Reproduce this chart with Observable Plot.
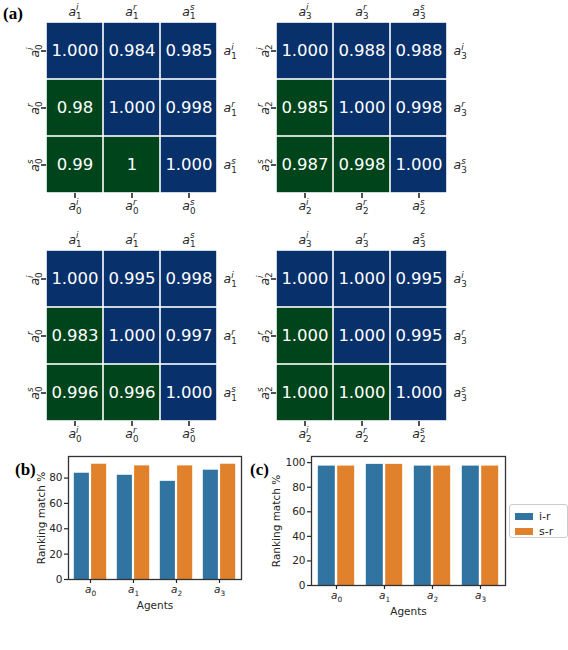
<!DOCTYPE html>
<html>
<head>
<meta charset="utf-8">
<script src="https://cdn.jsdelivr.net/npm/d3@7"></script>
<script src="https://cdn.jsdelivr.net/npm/@observablehq/plot@0.6"></script>
<style>
  body { margin: 0; background: white; }
  #fig { position: relative; width: 568px; height: 650px; font-family: "DejaVu Sans", sans-serif; color: #262626; overflow: hidden; }
  #fig > * { position: absolute; }
  .panel { font-family: "Liberation Serif", "Times New Roman", serif; font-weight: bold; font-size: 17px; color: #000; }
  .legend { border: 1px solid #cccccc; border-radius: 3px; background: white; font-size: 11px; box-sizing: border-box; }
  .legend .row { position: absolute; display: flex; align-items: center; }
  .legend .sw { width: 18px; height: 7px; margin-right: 6px; }
</style>
</head>
<body>
<div id="fig"></div>
<script>
// ---------- data ----------
const triangle = [["upper","upper","upper"],["lower","upper","upper"],["lower","lower","upper"]];

const h1Values = [["1.000","0.984","0.985"],["0.98","1.000","0.998"],["0.99","1","1.000"]];
const h2Values = [["1.000","0.988","0.988"],["0.985","1.000","0.998"],["0.987","0.998","1.000"]];
const h3Values = [["1.000","0.995","0.998"],["0.983","1.000","0.997"],["0.996","0.996","1.000"]];
const h4Values = [["1.000","1.000","0.995"],["1.000","1.000","0.995"],["1.000","1.000","1.000"]];

const labelsA0 = ["a_0^i","a_0^r","a_0^s"];
const labelsA1 = ["a_1^i","a_1^r","a_1^s"];
const labelsA2 = ["a_2^i","a_2^r","a_2^s"];
const labelsA3 = ["a_3^i","a_3^r","a_3^s"];

const agents = ["a_0","a_1","a_2","a_3"];
const seriesNames = ["i-r","s-r"];
const bIR = [84.2, 82.6, 77.8, 86.6];
const bSR = [91.3, 90.0, 90.0, 91.3];
const cIR = [97.6, 99.0, 97.6, 97.6];
const cSR = [97.6, 99.0, 97.6, 97.6];
const bTicks = [0, 20, 40, 60, 80];
const cTicks = [0, 20, 40, 60, 80, 100];

const navy = "#08306b", green = "#00441b";
const barBlue = "#3274a1", barOrange = "#e1812c";
const ink = "#262626";

const fig = document.getElementById("fig");

// turn "a_0^i" / "a_0" into italic a with stacked scripts
const supW = {i: 2.4, r: 3.4, s: 4.3};
function decorate(svg, base) {
  d3.select(svg).selectAll("text").each(function() {
    const t = this.textContent;
    const m = t.match(/^a_(\d)(?:\^(\w))?$/);
    if (!m) return;
    const el = d3.select(this);
    el.text(null);
    el.append("tspan").attr("font-style", "italic").text("a");
    const small = base * 0.7;
    if (m[2]) {
      el.append("tspan").attr("font-style", "italic").attr("font-size", small).attr("dy", -base * 0.42).text(m[2]);
      el.append("tspan").attr("font-size", small).attr("dx", -supW[m[2]] * small / 8.5).attr("dy", base * 0.72).text(m[1]);
    } else {
      el.append("tspan").attr("font-size", small).attr("dy", base * 0.28).text(m[1]);
    }
  });
}

function heatmap(values, bottom, top, left, right, x0, y0) {
  const data = [];
  for (let r = 0; r < 3; r++) for (let c = 0; c < 3; c++)
    data.push({r, c, label: values[r][c], tri: triangle[r][c]});
  const fs = 12.5;
  const svg = Plot.plot({
    width: 46 + 171 + 40, height: 22 + 171 + 30,
    marginLeft: 46, marginTop: 22, marginRight: 40, marginBottom: 30,
    style: {background: "transparent", fontFamily: "DejaVu Sans", color: ink, overflow: "visible"},
    x: {type: "band", domain: [0,1,2], padding: 0, axis: null},
    y: {type: "band", domain: [0,1,2], padding: 0, axis: null},
    color: {domain: ["upper","lower"], range: [navy, green]},
    marks: [
      Plot.cell(data, {x: "c", y: "r", fill: "tri", inset: 0.8}),
      Plot.text(data, {x: "c", y: "r", text: "label", fill: "white", fontSize: 16.5}),
      Plot.axisX({anchor: "top", tickSize: 0, tickPadding: 7, tickFormat: i => top[i], fontSize: fs, label: null}),
      Plot.axisX({anchor: "bottom", tickSize: 5, tickPadding: 3, strokeWidth: 1.6, tickFormat: i => bottom[i], fontSize: fs, label: null}),
      Plot.axisY({anchor: "left", tickSize: 5, tickPadding: 3, strokeWidth: 1.6, tickRotate: -90, tickFormat: i => left[i], fontSize: fs, label: null}),
      Plot.axisY({anchor: "right", tickSize: 0, tickPadding: 6, tickFormat: i => right[i], fontSize: fs, label: null, textAnchor: "start"})
    ]
  });
  decorate(svg, fs);
  svg.style.left = (x0 - 46) + "px";
  svg.style.top = (y0 - 22) + "px";
  fig.appendChild(svg);
}

heatmap(h1Values, labelsA0, labelsA1, labelsA0, labelsA1, 46, 22);
heatmap(h2Values, labelsA2, labelsA3, labelsA2, labelsA3, 276, 22);
heatmap(h3Values, labelsA0, labelsA1, labelsA0, labelsA1, 46, 250);
heatmap(h4Values, labelsA2, labelsA3, labelsA2, labelsA3, 276, 250);

function barChart(ir, sr, yMax, ticks, frameL, frameT, plotW, plotH, labelOffset, xLabelOffset, x0, y0) {
  const fs = 10.5;
  const dIR = agents.map((a, i) => ({agent: a, value: ir[i], series: seriesNames[0]}));
  const dSR = agents.map((a, i) => ({agent: a, value: sr[i], series: seriesNames[1]}));
  const half = plotW / agents.length * 0.8 / 2;
  const svg = Plot.plot({
    width: frameL + plotW + 10, height: frameT + plotH + 40,
    marginLeft: frameL, marginTop: frameT, marginRight: 10, marginBottom: 40,
    style: {background: "transparent", fontFamily: "DejaVu Sans", color: ink, overflow: "visible"},
    x: {type: "band", domain: agents, paddingInner: 0.2, paddingOuter: 0.1, axis: null},
    y: {domain: [0, yMax], axis: null},
    marks: [
      Plot.barY(dIR, {x: "agent", y: "value", fill: barBlue, insetLeft: 0.8, insetRight: half + 0.8, insetTop: 0.5}),
      Plot.barY(dSR, {x: "agent", y: "value", fill: barOrange, insetLeft: half + 0.8, insetRight: 0.8, insetTop: 0.5}),
      Plot.frame({stroke: "#333333", strokeWidth: 1.3}),
      Plot.axisY({ticks, tickSize: 4, tickPadding: 2, strokeWidth: 1.2, fontSize: fs, label: "Ranking match %", labelAnchor: "center", labelArrow: "none", labelOffset}),
      Plot.axisX({tickSize: 4, tickPadding: 2, strokeWidth: 1.2, fontSize: fs, label: "Agents", labelAnchor: "center", labelArrow: "none", labelOffset: xLabelOffset})
    ]
  });
  d3.select(svg).selectAll("text").attr("font-size", null);
  decorate(svg, fs);
  svg.style.left = x0 + "px";
  svg.style.top = y0 + "px";
  svg.style.fontSize = fs + "px";
  fig.appendChild(svg);
}

barChart(bIR, bSR, 97, bTicks, 68, 16, 173, 123, 31, 29, 0, 440);
barChart(cIR, cSR, 105, cTicks, 51, 16, 194, 129, 39, 29, 260, 440);

// legend
const leg = document.createElement("div");
leg.className = "legend";
leg.style.left = "509px"; leg.style.top = "504px"; leg.style.width = "59px"; leg.style.height = "34px";
[[seriesNames[0], barBlue, 5], [seriesNames[1], barOrange, 20]].forEach(([name, col, top]) => {
  const row = document.createElement("div");
  row.className = "row";
  row.style.left = "5px"; row.style.top = top + "px";
  row.innerHTML = `<span class="sw" style="background:${col}"></span><span>${name}</span>`;
  leg.appendChild(row);
});
fig.appendChild(leg);

// panel labels
[["(a)", 3, 4], ["(b)", 15, 460], ["(c)", 250, 460]].forEach(([t, x, y]) => {
  const d = document.createElement("div");
  d.className = "panel";
  d.textContent = t;
  d.style.left = x + "px"; d.style.top = y + "px";
  fig.appendChild(d);
});
</script>
</body>
</html>
